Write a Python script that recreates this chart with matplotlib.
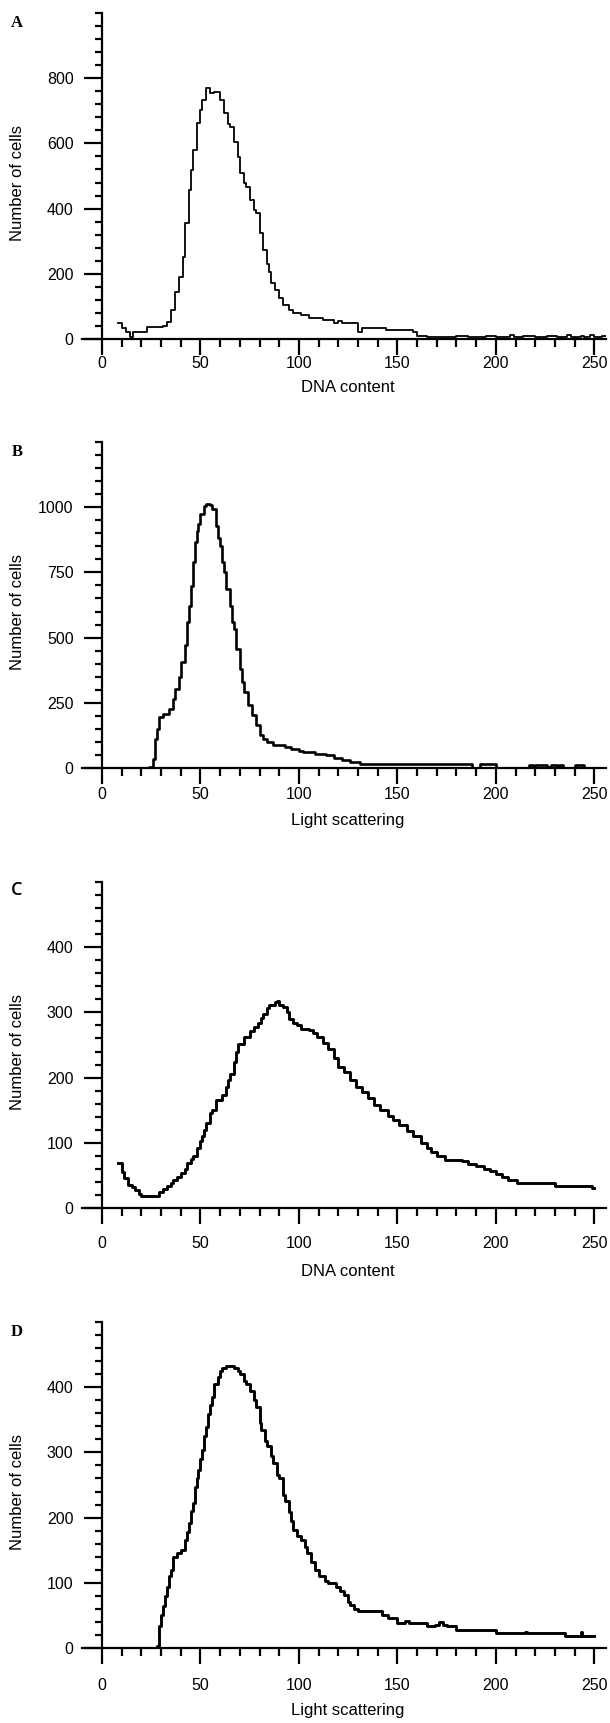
import numpy as np
import matplotlib
matplotlib.use("Agg")
import matplotlib.pyplot as plt
from matplotlib.ticker import FixedLocator

plt.rcParams['font.family'] = ['Liberation Sans', 'DejaVu Sans']

# Panel A: DNA content histogram
a_x = [8, 10, 12, 14, 16, 19, 23, 28, 31, 33, 35, 37, 39, 41, 42, 44, 45, 46, 48, 50,
       51, 53, 55, 57, 58, 60, 62, 64, 65, 67, 69, 70, 72, 73, 75, 77, 78, 80, 82, 84,
       85, 86, 88, 90, 92, 95, 97, 101, 105, 112, 118, 120, 122, 130, 132, 144, 158, 160,
       165, 180, 186, 195, 200, 207, 209, 214, 220, 226, 231, 236, 238, 243, 245, 248,
       250, 254, 256]
a_y = [48, 35, 20, 7, 20, 22, 38, 38, 40, 53, 89, 145, 191, 252, 355, 457, 518, 580, 662, 702,
       733, 769, 754, 759, 759, 733, 692, 660, 651, 605, 559, 508, 480, 467, 426, 395, 385, 324, 273, 230,
       205, 171, 150, 125, 104, 88, 80, 74, 63, 58, 48, 56, 48, 22, 35, 28, 22, 10,
       5, 8, 5, 8, 5, 12, 5, 10, 5, 10, 5, 12, 5, 10, 5, 12,
       5, 8, 8]

# Panel B: light scattering histogram
b_x = [23, 24, 26, 27, 28, 29, 31, 34, 36, 37, 39, 40, 42, 43, 44, 45, 46, 47, 48, 49,
       50, 52, 53, 55, 56, 58, 59, 60, 61, 62, 63, 65, 66, 67, 68, 70, 71, 72, 74, 76,
       78, 80, 82, 84, 87, 90, 93, 96, 100, 102, 108, 114, 118, 122, 126, 131, 188, 192,
       200, 217, 219, 220, 226, 228, 231, 232, 234, 240, 245, 256]
b_y = [0, 4, 36, 112, 150, 195, 208, 227, 266, 304, 348, 406, 470, 559, 620, 699, 788, 865, 910, 935,
       973, 1005, 1012, 1010, 993, 929, 880, 852, 790, 750, 686, 623, 560, 533, 457, 380, 330, 291, 240, 202,
       165, 125, 110, 99, 90, 87, 80, 74, 65, 61, 55, 48, 40, 29, 22, 17, 0, 17,
       0, 10, 5, 10, 5, 10, 5, 10, 0, 10, 0, 0]

# Panel C: DNA content histogram
c_x = [8, 10, 11, 13, 15, 17, 19, 20, 27, 29, 31, 33, 35, 36, 38, 40, 42, 43, 45, 46,
       48, 50, 51, 52, 53, 55, 56, 58, 61, 63, 64, 65, 67, 68, 69, 72, 75, 77, 79, 81,
       82, 84, 85, 88, 89, 90, 92, 94, 95, 97, 99, 101, 105, 107, 109, 112, 115, 118, 120, 123,
       126, 129, 132, 135, 138, 141, 145, 148, 151, 155, 158, 162, 165, 167, 170, 174, 183, 186,
       190, 194, 197, 200, 203, 206, 211, 229, 230, 248, 249, 250]
c_y = [69, 55, 46, 36, 32, 28, 22, 18, 18, 25, 29, 33, 38, 43, 48, 53, 60, 69, 75, 79,
       92, 102, 110, 120, 130, 145, 150, 165, 173, 186, 196, 206, 224, 240, 252, 262, 272, 278, 283, 292,
       298, 306, 311, 316, 318, 312, 308, 300, 290, 283, 280, 274, 273, 268, 262, 253, 244, 230, 216, 208,
       196, 186, 178, 168, 158, 150, 141, 135, 127, 118, 110, 100, 92, 86, 80, 73, 72, 68,
       65, 60, 56, 52, 47, 43, 38, 38, 33, 33, 30, 30]

# Panel D: light scattering histogram
d_x = [27, 28, 29, 30, 31, 32, 33, 34, 35, 36, 38, 40, 42, 43, 44, 45, 46, 47, 48, 49,
       50, 51, 52, 53, 54, 55, 56, 57, 59, 60, 61, 63, 66, 67, 69, 70, 72, 73, 75, 77,
       78, 80, 81, 83, 84, 86, 87, 89, 90, 92, 93, 95, 96, 97, 99, 101, 103, 104, 106, 108,
       110, 113, 115, 119, 121, 123, 125, 126, 128, 130, 140, 142, 145, 150, 154, 156, 163, 165,
       169, 171, 173, 175, 180, 200, 215, 216, 235, 243, 244, 250]
d_y = [0, 3, 33, 50, 64, 80, 94, 110, 119, 140, 145, 150, 166, 178, 191, 210, 222, 247, 260, 273,
       290, 303, 325, 339, 359, 372, 385, 405, 415, 425, 430, 433, 433, 430, 425, 420, 410, 405, 394, 380,
       369, 345, 335, 318, 310, 295, 283, 265, 260, 235, 225, 209, 195, 181, 172, 166, 155, 145, 132, 120,
       110, 102, 99, 94, 88, 81, 70, 66, 60, 56, 56, 50, 46, 38, 41, 38, 38, 33,
       36, 40, 36, 33, 28, 23, 25, 23, 18, 25, 18, 18]

panels = [
    # letter, x, y, ymax, yticks, minor step, xlabel, bottom(px), xtick pad, xlabel offset, line width
    ('A', a_x, a_y, 1000, [0, 200, 400, 600, 800], 40, 'DNA content', 339, 0.5, 48, 1.3),
    ('B', b_x, b_y, 1250, [0, 250, 500, 750, 1000], 50, 'Light scattering', 768, 2.5, 52, 1.9),
    ('C', c_x, c_y, 500, [0, 100, 200, 300, 400], 20, 'DNA content', 1208, 8.5, 64, 2.1),
    ('D', d_x, d_y, 500, [0, 100, 200, 300, 400], 20, 'Light scattering', 1648, 10, 63, 2.1),
]

W, H = 610, 1723
fig = plt.figure(figsize=(W / 100, H / 100), dpi=100)

ax_left = 82.3
ax_w = 523.8
ax_h = 326

for letter, xs, ys, ymax, yt, ystep, xlabel, bot, xpad, xlab_off, lw in panels:
    ax = fig.add_axes([ax_left / W, (H - bot) / H, ax_w / W, ax_h / H])
    ax.step(xs, ys, where='post', color='black', lw=lw)
    ax.set_xlim(-10, 256)
    ax.set_ylim(0, ymax)

    for s in ['top', 'right']:
        ax.spines[s].set_visible(False)
    ax.spines['left'].set_position(('data', 0))
    ax.spines['left'].set_linewidth(1.6)
    ax.spines['bottom'].set_linewidth(1.6)

    ax.xaxis.set_major_locator(FixedLocator([0, 50, 100, 150, 200, 250]))
    ax.xaxis.set_minor_locator(FixedLocator([v for v in range(10, 251, 10) if v % 50]))
    ax.yaxis.set_major_locator(FixedLocator(yt))
    ax.yaxis.set_minor_locator(FixedLocator(list(range(ystep, ymax + 1, ystep))))

    ax.tick_params(axis='x', which='major', direction='out', length=11.5, width=1.6,
                   labelsize=11.5, pad=xpad)
    ax.tick_params(axis='x', which='minor', direction='out', length=5.8, width=1.6)
    ax.tick_params(axis='y', which='major', direction='out', length=13, width=1.6,
                   labelsize=11.5, pad=7.5)
    ax.tick_params(axis='y', which='minor', direction='out', length=5.4, width=1.6)

    ax.set_xlabel(xlabel, fontsize=12, va='center')
    ax.xaxis.set_label_coords(0.5075, -xlab_off / ax_h)
    ax.set_ylabel('Number of cells', fontsize=12, va='center')
    ax.yaxis.set_label_coords((17.5 - ax_left) / ax_w, 0.48)

    top_px = bot - ax_h
    if letter == 'C':
        fig.text(17 / W, 1 - (top_px + 8) / H, letter, fontsize=13,
                 family=['Open Sans', 'DejaVu Sans'], weight='semibold',
                 ha='center', va='center')
    else:
        fig.text(17 / W, 1 - (top_px + 10) / H, letter, fontsize=12,
                 family=['Liberation Serif', 'DejaVu Serif'], weight='bold',
                 ha='center', va='center')

fig.savefig('out.png', dpi=100)
